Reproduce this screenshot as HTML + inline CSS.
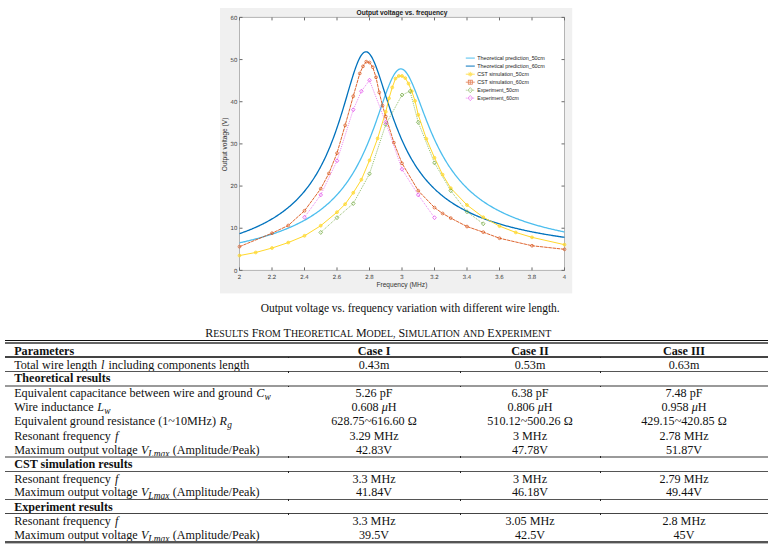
<!DOCTYPE html>
<html><head><meta charset="utf-8"><style>
html,body{margin:0;padding:0;background:#fff;}
body{width:775px;height:544px;overflow:hidden;position:relative;font-family:'Liberation Serif',serif;color:#111;}
sub{line-height:0}
</style></head><body>
<svg width="775" height="300" viewBox="0 0 775 300" style="position:absolute;left:0;top:0"><rect x="220" y="8" width="352.2" height="285.4" fill="#F0F0F0"/><rect x="239.5" y="17.4" width="325.0" height="252.99999999999997" fill="#fff"/><rect x="239.5" y="17.4" width="325.0" height="252.99999999999997" fill="none" stroke="#b4b4b4" stroke-width="1"/><path d="M239.50,270.4v-3M239.50,17.4v3M272.00,270.4v-3M272.00,17.4v3M304.50,270.4v-3M304.50,17.4v3M337.00,270.4v-3M337.00,17.4v3M369.50,270.4v-3M369.50,17.4v3M402.00,270.4v-3M402.00,17.4v3M434.50,270.4v-3M434.50,17.4v3M467.00,270.4v-3M467.00,17.4v3M499.50,270.4v-3M499.50,17.4v3M532.00,270.4v-3M532.00,17.4v3M564.50,270.4v-3M564.50,17.4v3M239.5,270.40h3M564.5,270.40h-3M239.5,228.23h3M564.5,228.23h-3M239.5,186.07h3M564.5,186.07h-3M239.5,143.90h3M564.5,143.90h-3M239.5,101.73h3M564.5,101.73h-3M239.5,59.57h3M564.5,59.57h-3M239.5,17.40h3M564.5,17.40h-3" stroke="#6a6a6a" stroke-width="1" fill="none"/><defs><clipPath id="ax"><rect x="239" y="17" width="326" height="254"/></clipPath></defs><g clip-path="url(#ax)"><path d="M239.50,242.84 L240.31,242.66 L241.12,242.48 L241.94,242.30 L242.75,242.12 L243.56,241.93 L244.37,241.75 L245.19,241.56 L246.00,241.37 L246.81,241.18 L247.62,240.99 L248.44,240.79 L249.25,240.59 L250.06,240.39 L250.87,240.19 L251.69,239.99 L252.50,239.79 L253.31,239.58 L254.12,239.37 L254.94,239.16 L255.75,238.94 L256.56,238.73 L257.38,238.51 L258.19,238.29 L259.00,238.07 L259.81,237.84 L260.62,237.61 L261.44,237.38 L262.25,237.15 L263.06,236.92 L263.88,236.68 L264.69,236.44 L265.50,236.20 L266.31,235.95 L267.12,235.70 L267.94,235.45 L268.75,235.20 L269.56,234.94 L270.38,234.68 L271.19,234.42 L272.00,234.15 L272.81,233.88 L273.62,233.61 L274.44,233.34 L275.25,233.06 L276.06,232.78 L276.88,232.49 L277.69,232.21 L278.50,231.91 L279.31,231.62 L280.12,231.32 L280.94,231.02 L281.75,230.71 L282.56,230.40 L283.38,230.09 L284.19,229.77 L285.00,229.45 L285.81,229.12 L286.62,228.79 L287.44,228.45 L288.25,228.11 L289.06,227.77 L289.88,227.42 L290.69,227.07 L291.50,226.71 L292.31,226.35 L293.12,225.98 L293.94,225.61 L294.75,225.23 L295.56,224.85 L296.38,224.46 L297.19,224.07 L298.00,223.67 L298.81,223.27 L299.62,222.86 L300.44,222.44 L301.25,222.02 L302.06,221.59 L302.88,221.15 L303.69,220.71 L304.50,220.27 L305.31,219.81 L306.12,219.35 L306.94,218.88 L307.75,218.41 L308.56,217.92 L309.38,217.43 L310.19,216.94 L311.00,216.43 L311.81,215.92 L312.62,215.40 L313.44,214.87 L314.25,214.33 L315.06,213.78 L315.87,213.22 L316.69,212.66 L317.50,212.08 L318.31,211.50 L319.12,210.90 L319.94,210.30 L320.75,209.68 L321.56,209.06 L322.38,208.42 L323.19,207.78 L324.00,207.12 L324.81,206.45 L325.63,205.76 L326.44,205.07 L327.25,204.36 L328.06,203.64 L328.88,202.91 L329.69,202.16 L330.50,201.40 L331.31,200.63 L332.12,199.84 L332.94,199.03 L333.75,198.22 L334.56,197.38 L335.38,196.53 L336.19,195.66 L337.00,194.78 L337.81,193.87 L338.62,192.95 L339.44,192.01 L340.25,191.06 L341.06,190.08 L341.88,189.08 L342.69,188.07 L343.50,187.03 L344.31,185.97 L345.12,184.89 L345.94,183.78 L346.75,182.66 L347.56,181.51 L348.38,180.33 L349.19,179.13 L350.00,177.91 L350.81,176.66 L351.62,175.38 L352.44,174.07 L353.25,172.74 L354.06,171.38 L354.88,169.98 L355.69,168.56 L356.50,167.11 L357.31,165.63 L358.12,164.11 L358.94,162.56 L359.75,160.98 L360.56,159.36 L361.38,157.71 L362.19,156.03 L363.00,154.31 L363.81,152.55 L364.62,150.76 L365.44,148.93 L366.25,147.07 L367.06,145.17 L367.88,143.23 L368.69,141.25 L369.50,139.24 L370.31,137.20 L371.12,135.11 L371.94,133.00 L372.75,130.85 L373.56,128.67 L374.38,126.45 L375.19,124.21 L376.00,121.94 L376.81,119.65 L377.62,117.34 L378.44,115.00 L379.25,112.66 L380.06,110.30 L380.88,107.94 L381.69,105.57 L382.50,103.22 L383.31,100.87 L384.12,98.54 L384.94,96.23 L385.75,93.96 L386.56,91.73 L387.38,89.55 L388.19,87.43 L389.00,85.37 L389.81,83.39 L390.62,81.50 L391.44,79.71 L392.25,78.02 L393.06,76.45 L393.88,75.01 L394.69,73.70 L395.50,72.53 L396.31,71.51 L397.12,70.65 L397.94,69.96 L398.75,69.43 L399.56,69.06 L400.38,68.87 L401.19,68.86 L402.00,69.01 L402.81,69.34 L403.62,69.83 L404.44,70.48 L405.25,71.29 L406.06,72.24 L406.88,73.34 L407.69,74.58 L408.50,75.94 L409.31,77.41 L410.12,79.00 L410.94,80.68 L411.75,82.45 L412.56,84.29 L413.38,86.21 L414.19,88.19 L415.00,90.22 L415.81,92.29 L416.62,94.39 L417.44,96.53 L418.25,98.68 L419.06,100.85 L419.88,103.03 L420.69,105.21 L421.50,107.38 L422.31,109.56 L423.12,111.72 L423.94,113.86 L424.75,115.99 L425.56,118.10 L426.38,120.19 L427.19,122.25 L428.00,124.29 L428.81,126.30 L429.62,128.28 L430.44,130.23 L431.25,132.14 L432.06,134.03 L432.88,135.88 L433.69,137.70 L434.50,139.49 L435.31,141.24 L436.12,142.97 L436.94,144.65 L437.75,146.31 L438.56,147.93 L439.38,149.52 L440.19,151.08 L441.00,152.61 L441.81,154.11 L442.62,155.58 L443.44,157.01 L444.25,158.42 L445.06,159.80 L445.88,161.15 L446.69,162.47 L447.50,163.77 L448.31,165.04 L449.12,166.28 L449.94,167.50 L450.75,168.69 L451.56,169.86 L452.38,171.00 L453.19,172.12 L454.00,173.22 L454.81,174.30 L455.62,175.35 L456.44,176.38 L457.25,177.40 L458.06,178.39 L458.88,179.36 L459.69,180.32 L460.50,181.25 L461.31,182.17 L462.12,183.07 L462.94,183.95 L463.75,184.82 L464.56,185.67 L465.37,186.50 L466.19,187.32 L467.00,188.12 L467.81,188.91 L468.62,189.69 L469.44,190.44 L470.25,191.19 L471.06,191.92 L471.87,192.64 L472.69,193.35 L473.50,194.04 L474.31,194.72 L475.12,195.39 L475.94,196.05 L476.75,196.69 L477.56,197.33 L478.38,197.95 L479.19,198.57 L480.00,199.17 L480.81,199.77 L481.62,200.35 L482.44,200.92 L483.25,201.49 L484.06,202.04 L484.88,202.59 L485.69,203.13 L486.50,203.66 L487.31,204.18 L488.12,204.69 L488.94,205.20 L489.75,205.69 L490.56,206.18 L491.38,206.66 L492.19,207.14 L493.00,207.60 L493.81,208.06 L494.63,208.52 L495.44,208.96 L496.25,209.40 L497.06,209.84 L497.88,210.27 L498.69,210.69 L499.50,211.10 L500.31,211.51 L501.13,211.91 L501.94,212.31 L502.75,212.70 L503.56,213.09 L504.38,213.47 L505.19,213.85 L506.00,214.22 L506.81,214.58 L507.62,214.94 L508.44,215.30 L509.25,215.65 L510.06,216.00 L510.88,216.34 L511.69,216.68 L512.50,217.01 L513.31,217.34 L514.12,217.67 L514.94,217.99 L515.75,218.30 L516.56,218.61 L517.38,218.92 L518.19,219.23 L519.00,219.53 L519.81,219.83 L520.62,220.12 L521.44,220.41 L522.25,220.70 L523.06,220.98 L523.88,221.26 L524.69,221.53 L525.50,221.81 L526.31,222.08 L527.12,222.34 L527.94,222.61 L528.75,222.87 L529.56,223.13 L530.38,223.38 L531.19,223.63 L532.00,223.88 L532.81,224.13 L533.62,224.37 L534.44,224.61 L535.25,224.85 L536.06,225.08 L536.88,225.32 L537.69,225.55 L538.50,225.77 L539.31,226.00 L540.12,226.22 L540.94,226.44 L541.75,226.66 L542.56,226.87 L543.38,227.09 L544.19,227.30 L545.00,227.51 L545.81,227.72 L546.62,227.92 L547.44,228.12 L548.25,228.32 L549.06,228.52 L549.88,228.72 L550.69,228.91 L551.50,229.10 L552.31,229.30 L553.12,229.48 L553.94,229.67 L554.75,229.86 L555.56,230.04 L556.38,230.22 L557.19,230.40 L558.00,230.58 L558.81,230.75 L559.62,230.93 L560.44,231.10 L561.25,231.27 L562.06,231.44 L562.88,231.61 L563.69,231.78 L564.50,231.94" stroke="#4DBEEE" stroke-width="1.3" fill="none"/><path d="M239.50,233.67 L240.31,233.38 L241.12,233.10 L241.94,232.81 L242.75,232.51 L243.56,232.22 L244.37,231.92 L245.19,231.61 L246.00,231.30 L246.81,230.99 L247.62,230.68 L248.44,230.36 L249.25,230.03 L250.06,229.70 L250.87,229.37 L251.69,229.04 L252.50,228.69 L253.31,228.35 L254.12,228.00 L254.94,227.64 L255.75,227.29 L256.56,226.92 L257.38,226.55 L258.19,226.18 L259.00,225.80 L259.81,225.41 L260.62,225.02 L261.44,224.63 L262.25,224.23 L263.06,223.82 L263.88,223.41 L264.69,222.99 L265.50,222.56 L266.31,222.13 L267.12,221.70 L267.94,221.25 L268.75,220.80 L269.56,220.34 L270.38,219.88 L271.19,219.41 L272.00,218.93 L272.81,218.44 L273.62,217.95 L274.44,217.45 L275.25,216.94 L276.06,216.42 L276.88,215.90 L277.69,215.36 L278.50,214.82 L279.31,214.27 L280.12,213.71 L280.94,213.14 L281.75,212.56 L282.56,211.97 L283.38,211.37 L284.19,210.76 L285.00,210.14 L285.81,209.50 L286.62,208.86 L287.44,208.21 L288.25,207.54 L289.06,206.86 L289.88,206.17 L290.69,205.47 L291.50,204.76 L292.31,204.03 L293.12,203.28 L293.94,202.53 L294.75,201.76 L295.56,200.97 L296.38,200.17 L297.19,199.35 L298.00,198.52 L298.81,197.67 L299.62,196.81 L300.44,195.93 L301.25,195.03 L302.06,194.11 L302.88,193.17 L303.69,192.21 L304.50,191.24 L305.31,190.24 L306.12,189.22 L306.94,188.18 L307.75,187.12 L308.56,186.04 L309.38,184.93 L310.19,183.80 L311.00,182.64 L311.81,181.46 L312.62,180.25 L313.44,179.01 L314.25,177.75 L315.06,176.46 L315.87,175.14 L316.69,173.79 L317.50,172.41 L318.31,170.99 L319.12,169.55 L319.94,168.07 L320.75,166.55 L321.56,165.00 L322.38,163.42 L323.19,161.80 L324.00,160.14 L324.81,158.44 L325.63,156.70 L326.44,154.92 L327.25,153.10 L328.06,151.24 L328.88,149.34 L329.69,147.39 L330.50,145.39 L331.31,143.36 L332.12,141.27 L332.94,139.14 L333.75,136.97 L334.56,134.75 L335.38,132.48 L336.19,130.16 L337.00,127.80 L337.81,125.40 L338.62,122.95 L339.44,120.45 L340.25,117.92 L341.06,115.35 L341.88,112.73 L342.69,110.09 L343.50,107.41 L344.31,104.70 L345.12,101.97 L345.94,99.22 L346.75,96.46 L347.56,93.69 L348.38,90.92 L349.19,88.16 L350.00,85.42 L350.81,82.70 L351.62,80.02 L352.44,77.39 L353.25,74.81 L354.06,72.31 L354.88,69.89 L355.69,67.57 L356.50,65.36 L357.31,63.27 L358.12,61.32 L358.94,59.52 L359.75,57.88 L360.56,56.42 L361.38,55.14 L362.19,54.05 L363.00,53.17 L363.81,52.50 L364.62,52.04 L365.44,51.81 L366.25,51.78 L367.06,51.98 L367.88,52.39 L368.69,53.01 L369.50,53.83 L370.31,54.85 L371.12,56.05 L371.94,57.43 L372.75,58.97 L373.56,60.66 L374.38,62.49 L375.19,64.44 L376.00,66.51 L376.81,68.68 L377.62,70.93 L378.44,73.26 L379.25,75.65 L380.06,78.10 L380.88,80.58 L381.69,83.09 L382.50,85.63 L383.31,88.18 L384.12,90.73 L384.94,93.29 L385.75,95.83 L386.56,98.36 L387.38,100.88 L388.19,103.37 L389.00,105.84 L389.81,108.27 L390.62,110.68 L391.44,113.05 L392.25,115.38 L393.06,117.68 L393.88,119.94 L394.69,122.15 L395.50,124.33 L396.31,126.46 L397.12,128.56 L397.94,130.61 L398.75,132.62 L399.56,134.59 L400.38,136.51 L401.19,138.40 L402.00,140.24 L402.81,142.05 L403.62,143.82 L404.44,145.54 L405.25,147.23 L406.06,148.88 L406.88,150.50 L407.69,152.08 L408.50,153.62 L409.31,155.13 L410.12,156.61 L410.94,158.06 L411.75,159.47 L412.56,160.85 L413.38,162.20 L414.19,163.52 L415.00,164.81 L415.81,166.08 L416.62,167.31 L417.44,168.52 L418.25,169.71 L419.06,170.87 L419.88,172.00 L420.69,173.11 L421.50,174.20 L422.31,175.26 L423.12,176.30 L423.94,177.33 L424.75,178.33 L425.56,179.30 L426.38,180.26 L427.19,181.21 L428.00,182.13 L428.81,183.03 L429.62,183.92 L430.44,184.78 L431.25,185.63 L432.06,186.47 L432.88,187.29 L433.69,188.09 L434.50,188.88 L435.31,189.65 L436.12,190.41 L436.94,191.16 L437.75,191.89 L438.56,192.61 L439.38,193.31 L440.19,194.00 L441.00,194.68 L441.81,195.35 L442.62,196.01 L443.44,196.65 L444.25,197.28 L445.06,197.91 L445.88,198.52 L446.69,199.12 L447.50,199.71 L448.31,200.29 L449.12,200.86 L449.94,201.43 L450.75,201.98 L451.56,202.52 L452.38,203.06 L453.19,203.58 L454.00,204.10 L454.81,204.61 L455.62,205.12 L456.44,205.61 L457.25,206.10 L458.06,206.57 L458.88,207.05 L459.69,207.51 L460.50,207.97 L461.31,208.42 L462.12,208.86 L462.94,209.30 L463.75,209.73 L464.56,210.16 L465.37,210.57 L466.19,210.99 L467.00,211.39 L467.81,211.79 L468.62,212.19 L469.44,212.58 L470.25,212.96 L471.06,213.34 L471.87,213.71 L472.69,214.08 L473.50,214.45 L474.31,214.81 L475.12,215.16 L475.94,215.51 L476.75,215.85 L477.56,216.19 L478.38,216.53 L479.19,216.86 L480.00,217.19 L480.81,217.51 L481.62,217.83 L482.44,218.14 L483.25,218.45 L484.06,218.76 L484.88,219.06 L485.69,219.36 L486.50,219.65 L487.31,219.95 L488.12,220.23 L488.94,220.52 L489.75,220.80 L490.56,221.08 L491.38,221.35 L492.19,221.62 L493.00,221.89 L493.81,222.16 L494.63,222.42 L495.44,222.68 L496.25,222.93 L497.06,223.19 L497.88,223.44 L498.69,223.68 L499.50,223.93 L500.31,224.17 L501.13,224.41 L501.94,224.64 L502.75,224.88 L503.56,225.11 L504.38,225.34 L505.19,225.56 L506.00,225.79 L506.81,226.01 L507.62,226.23 L508.44,226.45 L509.25,226.66 L510.06,226.87 L510.88,227.08 L511.69,227.29 L512.50,227.50 L513.31,227.70 L514.12,227.90 L514.94,228.10 L515.75,228.30 L516.56,228.49 L517.38,228.69 L518.19,228.88 L519.00,229.07 L519.81,229.25 L520.62,229.44 L521.44,229.62 L522.25,229.81 L523.06,229.99 L523.88,230.17 L524.69,230.34 L525.50,230.52 L526.31,230.69 L527.12,230.86 L527.94,231.03 L528.75,231.20 L529.56,231.37 L530.38,231.54 L531.19,231.70 L532.00,231.86 L532.81,232.02 L533.62,232.18 L534.44,232.34 L535.25,232.50 L536.06,232.65 L536.88,232.81 L537.69,232.96 L538.50,233.11 L539.31,233.26 L540.12,233.41 L540.94,233.56 L541.75,233.71 L542.56,233.85 L543.38,233.99 L544.19,234.14 L545.00,234.28 L545.81,234.42 L546.62,234.56 L547.44,234.69 L548.25,234.83 L549.06,234.96 L549.88,235.10 L550.69,235.23 L551.50,235.36 L552.31,235.49 L553.12,235.62 L553.94,235.75 L554.75,235.88 L555.56,236.01 L556.38,236.13 L557.19,236.26 L558.00,236.38 L558.81,236.50 L559.62,236.63 L560.44,236.75 L561.25,236.87 L562.06,236.99 L562.88,237.10 L563.69,237.22 L564.50,237.34" stroke="#0072BD" stroke-width="1.3" fill="none"/><path d="M239.50,255.56 L255.75,252.48 L272.00,248.05 L288.25,242.57 L304.50,235.82 L320.75,225.70 L337.00,212.21 L345.12,204.20 L353.25,192.81 L361.38,179.74 L369.50,160.34 L377.62,138.42 L385.75,111.85 L389.00,98.36 L392.25,87.40 L395.50,78.54 L398.75,76.01 L402.00,76.01 L405.25,78.12 L408.50,83.60 L411.75,91.19 L415.00,100.89 L418.25,114.81 L426.38,138.84 L434.50,157.81 L442.62,174.68 L450.75,188.17 L467.00,205.04 L483.25,217.27 L499.50,226.12 L515.75,232.45 L532.00,237.34 L564.50,244.68" stroke="#FFD82C" stroke-width="1.0" fill="none"/><path d="M239.50,246.66 L272.00,233.21 L288.25,225.49 L304.50,210.78 L320.75,188.72 L328.88,173.42 L337.00,153.18 L345.12,125.35 L353.25,96.25 L359.75,73.48 L363.00,66.31 L366.25,61.68 L369.50,62.52 L372.75,67.16 L376.00,77.28 L379.25,92.46 L382.50,105.53 L385.75,116.49 L393.88,142.63 L402.00,163.30 L418.25,190.70 L434.50,207.57 L442.62,213.47 L450.75,218.11 L467.00,226.55 L483.25,232.15 L499.50,238.23 L532.00,245.73 L564.50,249.32" stroke="#D95319" stroke-width="0.9" stroke-dasharray="3.5,0.7" fill="none"/><path d="M320.75,232.45 L337.00,217.69 L353.25,203.57 L369.50,173.84 L385.75,124.50 L402.00,94.99 L410.12,91.19 L418.25,122.39 L434.50,162.88 L450.75,190.70 L467.00,211.79 L483.25,223.81" stroke="#6AA535" stroke-width="0.8" stroke-dasharray="0.9,1.1" fill="none"/><path d="M304.50,217.27 L320.75,194.92 L337.00,160.77 L353.25,109.75 L361.38,91.19 L369.50,80.23 L385.75,122.39 L402.00,169.20 L418.25,194.92 L434.50,217.69" stroke="#E040E8" stroke-width="0.7" stroke-dasharray="0.9,1.1" fill="none"/></g><circle cx="239.50" cy="255.56" r="1.45" stroke="#FFD82C" stroke-width="0.7" fill="#FFD82C" fill-opacity="0.55"/><circle cx="255.75" cy="252.48" r="1.45" stroke="#FFD82C" stroke-width="0.7" fill="#FFD82C" fill-opacity="0.55"/><circle cx="272.00" cy="248.05" r="1.45" stroke="#FFD82C" stroke-width="0.7" fill="#FFD82C" fill-opacity="0.55"/><circle cx="288.25" cy="242.57" r="1.45" stroke="#FFD82C" stroke-width="0.7" fill="#FFD82C" fill-opacity="0.55"/><circle cx="304.50" cy="235.82" r="1.45" stroke="#FFD82C" stroke-width="0.7" fill="#FFD82C" fill-opacity="0.55"/><circle cx="320.75" cy="225.70" r="1.45" stroke="#FFD82C" stroke-width="0.7" fill="#FFD82C" fill-opacity="0.55"/><circle cx="337.00" cy="212.21" r="1.45" stroke="#FFD82C" stroke-width="0.7" fill="#FFD82C" fill-opacity="0.55"/><circle cx="345.12" cy="204.20" r="1.45" stroke="#FFD82C" stroke-width="0.7" fill="#FFD82C" fill-opacity="0.55"/><circle cx="353.25" cy="192.81" r="1.45" stroke="#FFD82C" stroke-width="0.7" fill="#FFD82C" fill-opacity="0.55"/><circle cx="361.38" cy="179.74" r="1.45" stroke="#FFD82C" stroke-width="0.7" fill="#FFD82C" fill-opacity="0.55"/><circle cx="369.50" cy="160.34" r="1.45" stroke="#FFD82C" stroke-width="0.7" fill="#FFD82C" fill-opacity="0.55"/><circle cx="377.62" cy="138.42" r="1.45" stroke="#FFD82C" stroke-width="0.7" fill="#FFD82C" fill-opacity="0.55"/><circle cx="385.75" cy="111.85" r="1.45" stroke="#FFD82C" stroke-width="0.7" fill="#FFD82C" fill-opacity="0.55"/><circle cx="389.00" cy="98.36" r="1.45" stroke="#FFD82C" stroke-width="0.7" fill="#FFD82C" fill-opacity="0.55"/><circle cx="392.25" cy="87.40" r="1.45" stroke="#FFD82C" stroke-width="0.7" fill="#FFD82C" fill-opacity="0.55"/><circle cx="395.50" cy="78.54" r="1.45" stroke="#FFD82C" stroke-width="0.7" fill="#FFD82C" fill-opacity="0.55"/><circle cx="398.75" cy="76.01" r="1.45" stroke="#FFD82C" stroke-width="0.7" fill="#FFD82C" fill-opacity="0.55"/><circle cx="402.00" cy="76.01" r="1.45" stroke="#FFD82C" stroke-width="0.7" fill="#FFD82C" fill-opacity="0.55"/><circle cx="405.25" cy="78.12" r="1.45" stroke="#FFD82C" stroke-width="0.7" fill="#FFD82C" fill-opacity="0.55"/><circle cx="408.50" cy="83.60" r="1.45" stroke="#FFD82C" stroke-width="0.7" fill="#FFD82C" fill-opacity="0.55"/><circle cx="411.75" cy="91.19" r="1.45" stroke="#FFD82C" stroke-width="0.7" fill="#FFD82C" fill-opacity="0.55"/><circle cx="415.00" cy="100.89" r="1.45" stroke="#FFD82C" stroke-width="0.7" fill="#FFD82C" fill-opacity="0.55"/><circle cx="418.25" cy="114.81" r="1.45" stroke="#FFD82C" stroke-width="0.7" fill="#FFD82C" fill-opacity="0.55"/><circle cx="426.38" cy="138.84" r="1.45" stroke="#FFD82C" stroke-width="0.7" fill="#FFD82C" fill-opacity="0.55"/><circle cx="434.50" cy="157.81" r="1.45" stroke="#FFD82C" stroke-width="0.7" fill="#FFD82C" fill-opacity="0.55"/><circle cx="442.62" cy="174.68" r="1.45" stroke="#FFD82C" stroke-width="0.7" fill="#FFD82C" fill-opacity="0.55"/><circle cx="450.75" cy="188.17" r="1.45" stroke="#FFD82C" stroke-width="0.7" fill="#FFD82C" fill-opacity="0.55"/><circle cx="467.00" cy="205.04" r="1.45" stroke="#FFD82C" stroke-width="0.7" fill="#FFD82C" fill-opacity="0.55"/><circle cx="483.25" cy="217.27" r="1.45" stroke="#FFD82C" stroke-width="0.7" fill="#FFD82C" fill-opacity="0.55"/><circle cx="499.50" cy="226.12" r="1.45" stroke="#FFD82C" stroke-width="0.7" fill="#FFD82C" fill-opacity="0.55"/><circle cx="515.75" cy="232.45" r="1.45" stroke="#FFD82C" stroke-width="0.7" fill="#FFD82C" fill-opacity="0.55"/><circle cx="532.00" cy="237.34" r="1.45" stroke="#FFD82C" stroke-width="0.7" fill="#FFD82C" fill-opacity="0.55"/><circle cx="564.50" cy="244.68" r="1.45" stroke="#FFD82C" stroke-width="0.7" fill="#FFD82C" fill-opacity="0.55"/><circle cx="239.50" cy="246.66" r="1.4" stroke="#D95319" stroke-width="0.7" fill="none"/><circle cx="272.00" cy="233.21" r="1.4" stroke="#D95319" stroke-width="0.7" fill="none"/><circle cx="288.25" cy="225.49" r="1.4" stroke="#D95319" stroke-width="0.7" fill="none"/><circle cx="304.50" cy="210.78" r="1.4" stroke="#D95319" stroke-width="0.7" fill="none"/><circle cx="320.75" cy="188.72" r="1.4" stroke="#D95319" stroke-width="0.7" fill="none"/><circle cx="328.88" cy="173.42" r="1.4" stroke="#D95319" stroke-width="0.7" fill="none"/><circle cx="337.00" cy="153.18" r="1.4" stroke="#D95319" stroke-width="0.7" fill="none"/><circle cx="345.12" cy="125.35" r="1.4" stroke="#D95319" stroke-width="0.7" fill="none"/><circle cx="353.25" cy="96.25" r="1.4" stroke="#D95319" stroke-width="0.7" fill="none"/><circle cx="359.75" cy="73.48" r="1.4" stroke="#D95319" stroke-width="0.7" fill="none"/><circle cx="363.00" cy="66.31" r="1.4" stroke="#D95319" stroke-width="0.7" fill="none"/><circle cx="366.25" cy="61.68" r="1.4" stroke="#D95319" stroke-width="0.7" fill="none"/><circle cx="369.50" cy="62.52" r="1.4" stroke="#D95319" stroke-width="0.7" fill="none"/><circle cx="372.75" cy="67.16" r="1.4" stroke="#D95319" stroke-width="0.7" fill="none"/><circle cx="376.00" cy="77.28" r="1.4" stroke="#D95319" stroke-width="0.7" fill="none"/><circle cx="379.25" cy="92.46" r="1.4" stroke="#D95319" stroke-width="0.7" fill="none"/><circle cx="382.50" cy="105.53" r="1.4" stroke="#D95319" stroke-width="0.7" fill="none"/><circle cx="385.75" cy="116.49" r="1.4" stroke="#D95319" stroke-width="0.7" fill="none"/><circle cx="393.88" cy="142.63" r="1.4" stroke="#D95319" stroke-width="0.7" fill="none"/><circle cx="402.00" cy="163.30" r="1.4" stroke="#D95319" stroke-width="0.7" fill="none"/><circle cx="418.25" cy="190.70" r="1.4" stroke="#D95319" stroke-width="0.7" fill="none"/><circle cx="434.50" cy="207.57" r="1.4" stroke="#D95319" stroke-width="0.7" fill="none"/><circle cx="442.62" cy="213.47" r="1.4" stroke="#D95319" stroke-width="0.7" fill="none"/><circle cx="450.75" cy="218.11" r="1.4" stroke="#D95319" stroke-width="0.7" fill="none"/><circle cx="467.00" cy="226.55" r="1.4" stroke="#D95319" stroke-width="0.7" fill="none"/><circle cx="483.25" cy="232.15" r="1.4" stroke="#D95319" stroke-width="0.7" fill="none"/><circle cx="499.50" cy="238.23" r="1.4" stroke="#D95319" stroke-width="0.7" fill="none"/><circle cx="532.00" cy="245.73" r="1.4" stroke="#D95319" stroke-width="0.7" fill="none"/><circle cx="564.50" cy="249.32" r="1.4" stroke="#D95319" stroke-width="0.7" fill="none"/><path d="M320.75,230.45L322.55,232.45L320.75,234.45L318.95,232.45Z" stroke="#6AA535" stroke-width="0.7" fill="none"/><path d="M337.00,215.69L338.80,217.69L337.00,219.69L335.20,217.69Z" stroke="#6AA535" stroke-width="0.7" fill="none"/><path d="M353.25,201.57L355.05,203.57L353.25,205.57L351.45,203.57Z" stroke="#6AA535" stroke-width="0.7" fill="none"/><path d="M369.50,171.84L371.30,173.84L369.50,175.84L367.70,173.84Z" stroke="#6AA535" stroke-width="0.7" fill="none"/><path d="M385.75,122.50L387.55,124.50L385.75,126.50L383.95,124.50Z" stroke="#6AA535" stroke-width="0.7" fill="none"/><path d="M402.00,92.99L403.80,94.99L402.00,96.99L400.20,94.99Z" stroke="#6AA535" stroke-width="0.7" fill="none"/><path d="M410.12,89.19L411.93,91.19L410.12,93.19L408.32,91.19Z" stroke="#6AA535" stroke-width="0.7" fill="none"/><path d="M418.25,120.39L420.05,122.39L418.25,124.39L416.45,122.39Z" stroke="#6AA535" stroke-width="0.7" fill="none"/><path d="M434.50,160.88L436.30,162.88L434.50,164.88L432.70,162.88Z" stroke="#6AA535" stroke-width="0.7" fill="none"/><path d="M450.75,188.70L452.55,190.70L450.75,192.70L448.95,190.70Z" stroke="#6AA535" stroke-width="0.7" fill="none"/><path d="M467.00,209.79L468.80,211.79L467.00,213.79L465.20,211.79Z" stroke="#6AA535" stroke-width="0.7" fill="none"/><path d="M483.25,221.81L485.05,223.81L483.25,225.81L481.45,223.81Z" stroke="#6AA535" stroke-width="0.7" fill="none"/><path d="M304.50,215.27L306.30,217.27L304.50,219.27L302.70,217.27Z" stroke="#E040E8" stroke-width="0.7" fill="none"/><path d="M320.75,192.92L322.55,194.92L320.75,196.92L318.95,194.92Z" stroke="#E040E8" stroke-width="0.7" fill="none"/><path d="M337.00,158.77L338.80,160.77L337.00,162.77L335.20,160.77Z" stroke="#E040E8" stroke-width="0.7" fill="none"/><path d="M353.25,107.75L355.05,109.75L353.25,111.75L351.45,109.75Z" stroke="#E040E8" stroke-width="0.7" fill="none"/><path d="M361.38,89.19L363.18,91.19L361.38,93.19L359.57,91.19Z" stroke="#E040E8" stroke-width="0.7" fill="none"/><path d="M369.50,78.23L371.30,80.23L369.50,82.23L367.70,80.23Z" stroke="#E040E8" stroke-width="0.7" fill="none"/><path d="M385.75,120.39L387.55,122.39L385.75,124.39L383.95,122.39Z" stroke="#E040E8" stroke-width="0.7" fill="none"/><path d="M402.00,167.20L403.80,169.20L402.00,171.20L400.20,169.20Z" stroke="#E040E8" stroke-width="0.7" fill="none"/><path d="M418.25,192.92L420.05,194.92L418.25,196.92L416.45,194.92Z" stroke="#E040E8" stroke-width="0.7" fill="none"/><path d="M434.50,215.69L436.30,217.69L434.50,219.69L432.70,217.69Z" stroke="#E040E8" stroke-width="0.7" fill="none"/><text x="239.50" y="279" font-size="6" text-anchor="middle" fill="#404040" text-rendering="geometricPrecision" style="font-family:'Liberation Sans',sans-serif">2</text><text x="272.00" y="279" font-size="6" text-anchor="middle" fill="#404040" text-rendering="geometricPrecision" style="font-family:'Liberation Sans',sans-serif">2.2</text><text x="304.50" y="279" font-size="6" text-anchor="middle" fill="#404040" text-rendering="geometricPrecision" style="font-family:'Liberation Sans',sans-serif">2.4</text><text x="337.00" y="279" font-size="6" text-anchor="middle" fill="#404040" text-rendering="geometricPrecision" style="font-family:'Liberation Sans',sans-serif">2.6</text><text x="369.50" y="279" font-size="6" text-anchor="middle" fill="#404040" text-rendering="geometricPrecision" style="font-family:'Liberation Sans',sans-serif">2.8</text><text x="402.00" y="279" font-size="6" text-anchor="middle" fill="#404040" text-rendering="geometricPrecision" style="font-family:'Liberation Sans',sans-serif">3</text><text x="434.50" y="279" font-size="6" text-anchor="middle" fill="#404040" text-rendering="geometricPrecision" style="font-family:'Liberation Sans',sans-serif">3.2</text><text x="467.00" y="279" font-size="6" text-anchor="middle" fill="#404040" text-rendering="geometricPrecision" style="font-family:'Liberation Sans',sans-serif">3.4</text><text x="499.50" y="279" font-size="6" text-anchor="middle" fill="#404040" text-rendering="geometricPrecision" style="font-family:'Liberation Sans',sans-serif">3.6</text><text x="532.00" y="279" font-size="6" text-anchor="middle" fill="#404040" text-rendering="geometricPrecision" style="font-family:'Liberation Sans',sans-serif">3.8</text><text x="564.50" y="279" font-size="6" text-anchor="middle" fill="#404040" text-rendering="geometricPrecision" style="font-family:'Liberation Sans',sans-serif">4</text><text x="237.3" y="272.60" font-size="6" text-anchor="end" fill="#404040" text-rendering="geometricPrecision" style="font-family:'Liberation Sans',sans-serif">0</text><text x="237.3" y="230.43" font-size="6" text-anchor="end" fill="#404040" text-rendering="geometricPrecision" style="font-family:'Liberation Sans',sans-serif">10</text><text x="237.3" y="188.27" font-size="6" text-anchor="end" fill="#404040" text-rendering="geometricPrecision" style="font-family:'Liberation Sans',sans-serif">20</text><text x="237.3" y="146.10" font-size="6" text-anchor="end" fill="#404040" text-rendering="geometricPrecision" style="font-family:'Liberation Sans',sans-serif">30</text><text x="237.3" y="103.93" font-size="6" text-anchor="end" fill="#404040" text-rendering="geometricPrecision" style="font-family:'Liberation Sans',sans-serif">40</text><text x="237.3" y="61.77" font-size="6" text-anchor="end" fill="#404040" text-rendering="geometricPrecision" style="font-family:'Liberation Sans',sans-serif">50</text><text x="237.3" y="19.60" font-size="6" text-anchor="end" fill="#404040" text-rendering="geometricPrecision" style="font-family:'Liberation Sans',sans-serif">60</text><text x="402" y="14.6" font-size="6.6" font-weight="bold" text-anchor="middle" fill="#222" style="font-family:'Liberation Sans',sans-serif">Output voltage vs. frequency</text><text x="401.9" y="287.4" font-size="6.6" text-anchor="middle" fill="#333" style="font-family:'Liberation Sans',sans-serif">Frequency (MHz)</text><text transform="translate(226.6,144.4) rotate(-90)" x="0" y="0" font-size="6.6" text-anchor="middle" fill="#333" style="font-family:'Liberation Sans',sans-serif">Output voltage (V)</text><g opacity="0.75"><path d="M465.8,58.1H474.8" stroke="#4DBEEE" stroke-width="1.3" /></g><text x="477.2" y="59.95" font-size="5.5" fill="#222" textLength="67.6" lengthAdjust="spacingAndGlyphs" style="font-family:'Liberation Sans',sans-serif">Theoretical prediction_50cm</text><g opacity="0.75"><path d="M465.8,66.1H474.8" stroke="#0072BD" stroke-width="1.3" /></g><text x="477.2" y="67.95" font-size="5.5" fill="#222" textLength="67.6" lengthAdjust="spacingAndGlyphs" style="font-family:'Liberation Sans',sans-serif">Theoretical prediction_60cm</text><g opacity="0.75"><path d="M465.8,74.2H474.8" stroke="#FFD82C" stroke-width="1.0" /><path d="M467.90,74.20h4.80M470.30,71.80v4.80M468.62,72.52l3.36,3.36M468.62,75.88l3.36,-3.36" stroke="#FFD82C" stroke-width="0.8" fill="none"/><circle cx="470.30" cy="74.20" r="1.3" stroke="#FFD82C" stroke-width="0.7" fill="none"/></g><text x="477.2" y="76.05" font-size="5.5" fill="#222" textLength="51.6" lengthAdjust="spacingAndGlyphs" style="font-family:'Liberation Sans',sans-serif">CST simulation_50cm</text><g opacity="0.75"><path d="M465.8,82.2H474.8" stroke="#D95319" stroke-width="0.8" /><rect x="468.3" y="80.20" width="4" height="4" stroke="#D95319" stroke-width="0.8" fill="none"/><path d="M470.3,80.20v4" stroke="#D95319" stroke-width="0.8"/></g><text x="477.2" y="84.05" font-size="5.5" fill="#222" textLength="51.6" lengthAdjust="spacingAndGlyphs" style="font-family:'Liberation Sans',sans-serif">CST simulation_60cm</text><g opacity="0.75"><path d="M465.8,90.2H474.8" stroke="#6AA535" stroke-width="0.6" stroke-dasharray="1.5,0.8"/><path d="M470.30,87.60L472.64,90.20L470.30,92.80L467.96,90.20Z" stroke="#6AA535" stroke-width="0.7" fill="none"/></g><text x="477.2" y="92.05" font-size="5.5" fill="#222" textLength="41.7" lengthAdjust="spacingAndGlyphs" style="font-family:'Liberation Sans',sans-serif">Experiment_50cm</text><g opacity="0.75"><path d="M465.8,98.1H474.8" stroke="#E040E8" stroke-width="0.6" stroke-dasharray="1.5,0.8"/><path d="M470.30,95.50L472.64,98.10L470.30,100.70L467.96,98.10Z" stroke="#E040E8" stroke-width="0.7" fill="none"/></g><text x="477.2" y="99.95" font-size="5.5" fill="#222" textLength="41.7" lengthAdjust="spacingAndGlyphs" style="font-family:'Liberation Sans',sans-serif">Experiment_60cm</text></svg>
<div style="position:absolute;left:260.70px;top:301.67px;font-size:11.45px;line-height:13.74px;font-weight:normal;white-space:nowrap;">Output voltage vs. frequency variation with different wire length.</div><div style="position:absolute;left:205.30px;top:325.95px;font-size:12px;line-height:14.40px;font-weight:normal;white-space:nowrap;"><span style="font-size:12px">R</span><span style="font-size:9.88px">ESULTS</span> <span style="font-size:12px">F</span><span style="font-size:9.88px">ROM</span> <span style="font-size:12px">T</span><span style="font-size:9.88px">HEORETICAL</span> <span style="font-size:12px">M</span><span style="font-size:9.88px">ODEL,</span> <span style="font-size:12px">S</span><span style="font-size:9.88px">IMULATION</span> <span style="font-size:9.88px">AND</span> <span style="font-size:12px">E</span><span style="font-size:9.88px">XPERIMENT</span></div><div style="position:absolute;left:14.20px;top:343.51px;font-size:12.15px;line-height:14.58px;font-weight:normal;white-space:nowrap;"><b>Parameters</b></div><div style="position:absolute;left:174.00px;width:400px;text-align:center;top:343.51px;font-size:12.15px;line-height:14.58px;font-weight:normal;white-space:nowrap;"><b>Case I</b></div><div style="position:absolute;left:330.00px;width:400px;text-align:center;top:343.51px;font-size:12.15px;line-height:14.58px;font-weight:normal;white-space:nowrap;"><b>Case II</b></div><div style="position:absolute;left:484.00px;width:400px;text-align:center;top:343.51px;font-size:12.15px;line-height:14.58px;font-weight:normal;white-space:nowrap;"><b>Case III</b></div><div style="position:absolute;left:14.20px;top:357.91px;font-size:12.15px;line-height:14.58px;font-weight:normal;white-space:nowrap;">Total wire length <i style="padding:0 1px">l</i> including components length</div><div style="position:absolute;left:174.00px;width:400px;text-align:center;top:357.91px;font-size:12.15px;line-height:14.58px;font-weight:normal;white-space:nowrap;">0.43m</div><div style="position:absolute;left:330.00px;width:400px;text-align:center;top:357.91px;font-size:12.15px;line-height:14.58px;font-weight:normal;white-space:nowrap;">0.53m</div><div style="position:absolute;left:484.00px;width:400px;text-align:center;top:357.91px;font-size:12.15px;line-height:14.58px;font-weight:normal;white-space:nowrap;">0.63m</div><div style="position:absolute;left:14.20px;top:371.41px;font-size:12.15px;line-height:14.58px;font-weight:normal;white-space:nowrap;"><b>Theoretical results</b></div><div style="position:absolute;left:14.20px;top:385.91px;font-size:12.15px;line-height:14.58px;font-weight:normal;white-space:nowrap;">Equivalent capacitance between wire and ground <i style="padding-left:0.6px">C</i><sub style="font-size:9.4px;vertical-align:-3px;font-style:italic;letter-spacing:0px;padding-left:0.3px">w</sub></div><div style="position:absolute;left:174.00px;width:400px;text-align:center;top:385.91px;font-size:12.15px;line-height:14.58px;font-weight:normal;white-space:nowrap;">5.26 pF</div><div style="position:absolute;left:330.00px;width:400px;text-align:center;top:385.91px;font-size:12.15px;line-height:14.58px;font-weight:normal;white-space:nowrap;">6.38 pF</div><div style="position:absolute;left:484.00px;width:400px;text-align:center;top:385.91px;font-size:12.15px;line-height:14.58px;font-weight:normal;white-space:nowrap;">7.48 pF</div><div style="position:absolute;left:14.20px;top:399.61px;font-size:12.15px;line-height:14.58px;font-weight:normal;white-space:nowrap;">Wire inductance <i style="padding-left:0.6px">L</i><sub style="font-size:9.4px;vertical-align:-3px;font-style:italic;letter-spacing:0px;padding-left:0.3px">w</sub></div><div style="position:absolute;left:174.00px;width:400px;text-align:center;top:399.61px;font-size:12.15px;line-height:14.58px;font-weight:normal;white-space:nowrap;">0.608 <i>μ</i>H</div><div style="position:absolute;left:330.00px;width:400px;text-align:center;top:399.61px;font-size:12.15px;line-height:14.58px;font-weight:normal;white-space:nowrap;">0.806 <i>μ</i>H</div><div style="position:absolute;left:484.00px;width:400px;text-align:center;top:399.61px;font-size:12.15px;line-height:14.58px;font-weight:normal;white-space:nowrap;">0.958 <i>μ</i>H</div><div style="position:absolute;left:14.20px;top:413.91px;font-size:12.15px;line-height:14.58px;font-weight:normal;white-space:nowrap;">Equivalent ground resistance (1~10MHz) <i style="padding-left:0.6px">R</i><sub style="font-size:9.4px;vertical-align:-3px;font-style:italic;letter-spacing:0px;padding-left:0.3px">g</sub></div><div style="position:absolute;left:174.00px;width:400px;text-align:center;top:413.91px;font-size:12.15px;line-height:14.58px;font-weight:normal;white-space:nowrap;">628.75~616.60 Ω</div><div style="position:absolute;left:330.00px;width:400px;text-align:center;top:413.91px;font-size:12.15px;line-height:14.58px;font-weight:normal;white-space:nowrap;">510.12~500.26 Ω</div><div style="position:absolute;left:484.00px;width:400px;text-align:center;top:413.91px;font-size:12.15px;line-height:14.58px;font-weight:normal;white-space:nowrap;">429.15~420.85 Ω</div><div style="position:absolute;left:14.20px;top:428.91px;font-size:12.15px;line-height:14.58px;font-weight:normal;white-space:nowrap;">Resonant frequency <i style="padding-left:1px">f</i></div><div style="position:absolute;left:174.00px;width:400px;text-align:center;top:428.91px;font-size:12.15px;line-height:14.58px;font-weight:normal;white-space:nowrap;">3.29 MHz</div><div style="position:absolute;left:330.00px;width:400px;text-align:center;top:428.91px;font-size:12.15px;line-height:14.58px;font-weight:normal;white-space:nowrap;">3 MHz</div><div style="position:absolute;left:484.00px;width:400px;text-align:center;top:428.91px;font-size:12.15px;line-height:14.58px;font-weight:normal;white-space:nowrap;">2.78 MHz</div><div style="position:absolute;left:14.20px;top:442.81px;font-size:12.15px;line-height:14.58px;font-weight:normal;white-space:nowrap;">Maximum output voltage <i style="padding-left:0.3px">V</i><sub style="font-size:9.4px;vertical-align:-3px;font-style:italic;letter-spacing:0.1px;padding-left:0px">Lmax</sub> (Amplitude/Peak)</div><div style="position:absolute;left:174.00px;width:400px;text-align:center;top:442.81px;font-size:12.15px;line-height:14.58px;font-weight:normal;white-space:nowrap;">42.83V</div><div style="position:absolute;left:330.00px;width:400px;text-align:center;top:442.81px;font-size:12.15px;line-height:14.58px;font-weight:normal;white-space:nowrap;">47.78V</div><div style="position:absolute;left:484.00px;width:400px;text-align:center;top:442.81px;font-size:12.15px;line-height:14.58px;font-weight:normal;white-space:nowrap;">51.87V</div><div style="position:absolute;left:14.20px;top:457.21px;font-size:12.15px;line-height:14.58px;font-weight:normal;white-space:nowrap;"><b>CST simulation results</b></div><div style="position:absolute;left:14.20px;top:471.71px;font-size:12.15px;line-height:14.58px;font-weight:normal;white-space:nowrap;">Resonant frequency <i style="padding-left:1px">f</i></div><div style="position:absolute;left:174.00px;width:400px;text-align:center;top:471.71px;font-size:12.15px;line-height:14.58px;font-weight:normal;white-space:nowrap;">3.3 MHz</div><div style="position:absolute;left:330.00px;width:400px;text-align:center;top:471.71px;font-size:12.15px;line-height:14.58px;font-weight:normal;white-space:nowrap;">3 MHz</div><div style="position:absolute;left:484.00px;width:400px;text-align:center;top:471.71px;font-size:12.15px;line-height:14.58px;font-weight:normal;white-space:nowrap;">2.79 MHz</div><div style="position:absolute;left:14.20px;top:485.21px;font-size:12.15px;line-height:14.58px;font-weight:normal;white-space:nowrap;">Maximum output voltage <i style="padding-left:0.3px">V</i><sub style="font-size:9.4px;vertical-align:-3px;font-style:italic;letter-spacing:0.1px;padding-left:0px">Lmax</sub> (Amplitude/Peak)</div><div style="position:absolute;left:174.00px;width:400px;text-align:center;top:485.21px;font-size:12.15px;line-height:14.58px;font-weight:normal;white-space:nowrap;">41.84V</div><div style="position:absolute;left:330.00px;width:400px;text-align:center;top:485.21px;font-size:12.15px;line-height:14.58px;font-weight:normal;white-space:nowrap;">46.18V</div><div style="position:absolute;left:484.00px;width:400px;text-align:center;top:485.21px;font-size:12.15px;line-height:14.58px;font-weight:normal;white-space:nowrap;">49.44V</div><div style="position:absolute;left:14.20px;top:499.81px;font-size:12.15px;line-height:14.58px;font-weight:normal;white-space:nowrap;"><b>Experiment results</b></div><div style="position:absolute;left:14.20px;top:513.91px;font-size:12.15px;line-height:14.58px;font-weight:normal;white-space:nowrap;">Resonant frequency <i style="padding-left:1px">f</i></div><div style="position:absolute;left:174.00px;width:400px;text-align:center;top:513.91px;font-size:12.15px;line-height:14.58px;font-weight:normal;white-space:nowrap;">3.3 MHz</div><div style="position:absolute;left:330.00px;width:400px;text-align:center;top:513.91px;font-size:12.15px;line-height:14.58px;font-weight:normal;white-space:nowrap;">3.05 MHz</div><div style="position:absolute;left:484.00px;width:400px;text-align:center;top:513.91px;font-size:12.15px;line-height:14.58px;font-weight:normal;white-space:nowrap;">2.8 MHz</div><div style="position:absolute;left:14.20px;top:527.61px;font-size:12.15px;line-height:14.58px;font-weight:normal;white-space:nowrap;">Maximum output voltage <i style="padding-left:0.3px">V</i><sub style="font-size:9.4px;vertical-align:-3px;font-style:italic;letter-spacing:0.1px;padding-left:0px">Lmax</sub> (Amplitude/Peak)</div><div style="position:absolute;left:174.00px;width:400px;text-align:center;top:527.61px;font-size:12.15px;line-height:14.58px;font-weight:normal;white-space:nowrap;">39.5V</div><div style="position:absolute;left:330.00px;width:400px;text-align:center;top:527.61px;font-size:12.15px;line-height:14.58px;font-weight:normal;white-space:nowrap;">42.5V</div><div style="position:absolute;left:484.00px;width:400px;text-align:center;top:527.61px;font-size:12.15px;line-height:14.58px;font-weight:normal;white-space:nowrap;">45V</div><div style="position:absolute;left:5px;top:340px;width:763px;height:1px;background:#111"></div><div style="position:absolute;left:5px;top:342px;width:763px;height:1.6px;background:#666"></div><div style="position:absolute;left:5px;top:356.3px;width:763px;height:1.6px;background:#444"></div><div style="position:absolute;left:5px;top:371px;width:763px;height:1px;background:#555"></div><div style="position:absolute;left:5px;top:385.4px;width:763px;height:1.4px;background:#999"></div><div style="position:absolute;left:5px;top:456px;width:763px;height:1.5px;background:#9a9a9a"></div><div style="position:absolute;left:5px;top:471px;width:763px;height:1px;background:#555"></div><div style="position:absolute;left:5px;top:499px;width:763px;height:1px;background:#555"></div><div style="position:absolute;left:5px;top:513px;width:763px;height:1px;background:#444"></div><div style="position:absolute;left:5px;top:541px;width:763px;height:2px;background:#555"></div><div style="position:absolute;left:5px;top:543px;width:763px;height:1px;background:#bbb"></div><div style="position:absolute;left:288px;top:356.5px;width:1.2px;height:1.6px;background:#222"></div><div style="position:absolute;left:460px;top:356.5px;width:1.2px;height:1.6px;background:#222"></div><div style="position:absolute;left:600px;top:356.5px;width:1.2px;height:1.6px;background:#222"></div><div style="position:absolute;left:288px;top:371px;width:1.2px;height:1.6px;background:#222"></div><div style="position:absolute;left:460px;top:371px;width:1.2px;height:1.6px;background:#222"></div><div style="position:absolute;left:600px;top:371px;width:1.2px;height:1.6px;background:#222"></div><div style="position:absolute;left:288px;top:385.5px;width:1.2px;height:1.6px;background:#222"></div><div style="position:absolute;left:460px;top:385.5px;width:1.2px;height:1.6px;background:#222"></div><div style="position:absolute;left:600px;top:385.5px;width:1.2px;height:1.6px;background:#222"></div><div style="position:absolute;left:288px;top:456px;width:1.2px;height:1.6px;background:#222"></div><div style="position:absolute;left:460px;top:456px;width:1.2px;height:1.6px;background:#222"></div><div style="position:absolute;left:600px;top:456px;width:1.2px;height:1.6px;background:#222"></div><div style="position:absolute;left:288px;top:471px;width:1.2px;height:1.6px;background:#222"></div><div style="position:absolute;left:460px;top:471px;width:1.2px;height:1.6px;background:#222"></div><div style="position:absolute;left:600px;top:471px;width:1.2px;height:1.6px;background:#222"></div><div style="position:absolute;left:288px;top:499px;width:1.2px;height:1.6px;background:#222"></div><div style="position:absolute;left:460px;top:499px;width:1.2px;height:1.6px;background:#222"></div><div style="position:absolute;left:600px;top:499px;width:1.2px;height:1.6px;background:#222"></div><div style="position:absolute;left:288px;top:513px;width:1.2px;height:1.6px;background:#222"></div><div style="position:absolute;left:460px;top:513px;width:1.2px;height:1.6px;background:#222"></div><div style="position:absolute;left:600px;top:513px;width:1.2px;height:1.6px;background:#222"></div>
</body></html>
